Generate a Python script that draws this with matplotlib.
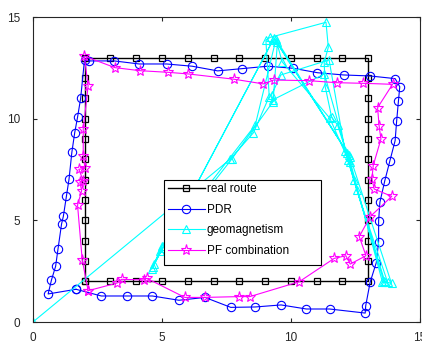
import matplotlib
matplotlib.use('Agg')
import matplotlib.pyplot as plt
from matplotlib.patches import Rectangle

plt.rcParams['font.family'] = ['Liberation Sans', 'DejaVu Sans']

# real route: rectangle (2,2)-(13,13), one marker per metre
real_x = [2, 2, 2, 2, 2, 2, 2, 2, 2, 2, 2, 2,
          3, 4, 5, 6, 7, 8, 9, 10, 11, 12, 13,
          13, 13, 13, 13, 13, 13, 13, 13, 13, 13, 13,
          12, 11, 10, 9, 8, 7, 6, 5, 4, 3, 2]
real_y = [2, 3, 4, 5, 6, 7, 8, 9, 10, 11, 12, 13,
          13, 13, 13, 13, 13, 13, 13, 13, 13, 13, 13,
          12, 11, 10, 9, 8, 7, 6, 5, 4, 3, 2,
          2, 2, 2, 2, 2, 2, 2, 2, 2, 2, 2]

# PDR estimate
pdr_x = [1.67, 0.59, 0.72, 0.88, 0.97, 1.11, 1.18, 1.30, 1.40, 1.51, 1.62,
         1.73, 1.85, 2.00, 2.18, 3.15, 4.12, 5.18, 6.17, 7.16, 8.10, 9.10,
         10.08, 11.03, 12.04, 13.07, 14.04, 14.22, 14.17, 14.10, 14.04,
         13.84, 13.64, 13.45, 13.40, 13.40, 13.31, 13.07, 12.90, 12.88,
         11.50, 10.60, 9.62, 8.62, 7.67, 6.67, 5.66, 4.63, 3.63, 2.65, 1.67]
pdr_y = [1.61, 1.38, 2.07, 2.74, 3.57, 4.82, 5.20, 6.20, 7.03, 8.35, 9.31,
         10.07, 11.00, 12.90, 12.84, 12.84, 12.69, 12.69, 12.58, 12.35,
         12.46, 12.58, 12.48, 12.26, 12.15, 12.10, 11.97, 11.57, 10.89,
         9.90, 8.92, 7.94, 6.95, 5.89, 4.98, 3.95, 2.92, 1.95, 0.80, 0.44,
         0.64, 0.64, 0.84, 0.74, 0.72, 1.21, 1.07, 1.28, 1.28, 1.28, 1.61]

# geomagnetism estimate
geo_x = [0.0, 7.64, 8.55, 9.16, 9.03, 9.20, 11.36, 11.45, 11.29, 11.33,
         11.58, 11.81, 12.16, 12.30, 13.55, 13.75, 12.55, 12.22, 11.51,
         9.66, 9.42, 8.62, 4.99, 4.92, 4.69, 4.60, 9.30, 4.64, 4.99, 7.70,
         9.31, 9.48, 12.25, 9.35, 12.30, 13.90, 13.60, 12.45, 11.30, 9.29,
         9.25, 9.61, 11.48, 12.10, 13.65]
geo_y = [0.0, 8.00, 9.31, 11.09, 13.87, 14.00, 14.74, 13.51, 12.77, 11.57,
         10.07, 9.69, 8.30, 7.89, 1.95, 1.95, 6.50, 7.97, 10.02, 12.80,
         13.90, 9.69, 3.75, 3.51, 2.85, 2.60, 13.85, 2.69, 3.62, 8.00,
         10.84, 13.79, 8.20, 13.95, 8.10, 1.90, 2.00, 7.00, 12.20, 10.92,
         11.17, 12.15, 12.89, 8.40, 1.95]

# particle filter combination
pf_x = [2.14, 1.91, 1.73, 1.89, 1.82, 1.95, 1.78, 2.02, 1.95, 1.95, 2.14,
        1.99, 3.18, 4.15, 5.24, 6.02, 7.80, 8.93, 9.33, 10.69, 11.77, 12.78,
        13.94, 13.36, 13.42, 13.49, 13.19, 13.14, 13.23, 13.91, 13.07, 12.65,
        12.91, 12.30, 12.13, 11.68, 10.32, 8.41, 8.00, 6.67, 5.89, 4.41,
        4.31, 3.44, 3.27, 2.14]
pf_y = [1.54, 3.07, 5.75, 6.46, 6.87, 6.95, 7.51, 7.56, 8.17, 9.48, 11.61,
        13.08, 12.51, 12.36, 12.28, 12.20, 11.94, 11.71, 11.90, 11.87, 11.77,
        11.74, 11.69, 10.54, 9.64, 9.00, 7.69, 7.03, 6.54, 6.18, 5.18, 4.20,
        3.26, 2.85, 3.26, 3.13, 1.98, 1.25, 1.25, 1.21, 1.21, 2.15, 2.07,
        2.10, 1.92, 1.54]

fig = plt.figure(figsize=(4.22, 3.47), dpi=100)
ax = fig.add_axes([0.078, 0.072, 0.917, 0.879])

ax.plot(real_x, real_y, '-s', color='black', lw=1.0, ms=4,
        mfc='none', mew=0.9, label='real route')
ax.plot(pdr_x, pdr_y, '-o', color='#0000ff', lw=0.8, ms=6,
        mfc='none', mew=0.8, label='PDR')
ax.plot(geo_x, geo_y, '-^', color='#00ffff', lw=0.8, ms=6,
        mfc='none', mew=0.8, label='geomagnetism')
ax.plot(pf_x, pf_y, '-*', color='#ff00ff', lw=0.8, ms=8,
        mfc='none', mew=0.8, label='PF combination')

ax.set_xlim(0, 15)
ax.set_ylim(0, 15)
ax.set_xticks([0, 5, 10, 15])
ax.set_yticks([0, 5, 10, 15])
ax.tick_params(direction='in', top=True, right=True, labelsize=8.5,
               length=3, width=0.8, colors='#262626')
ax.tick_params(axis='x', pad=7)
ax.tick_params(axis='y', pad=9)
for s in ax.spines.values():
    s.set_color('#262626')
    s.set_linewidth(0.8)

# MATLAB-like legend box: wider than its contents, so draw the frame
ax.add_patch(Rectangle((5.1, 2.8), 6.06, 4.2, facecolor='white',
                       edgecolor='black', lw=0.8, zorder=4.9))
ax.legend(loc='upper left', bbox_to_anchor=(5.1, 7.0),
          bbox_transform=ax.transData, borderaxespad=0,
          fontsize=8.5, numpoints=1, handlelength=3.1,
          handletextpad=0.2, labelspacing=0.72, borderpad=0.3,
          frameon=False)

fig.savefig('out.png', dpi=100)
